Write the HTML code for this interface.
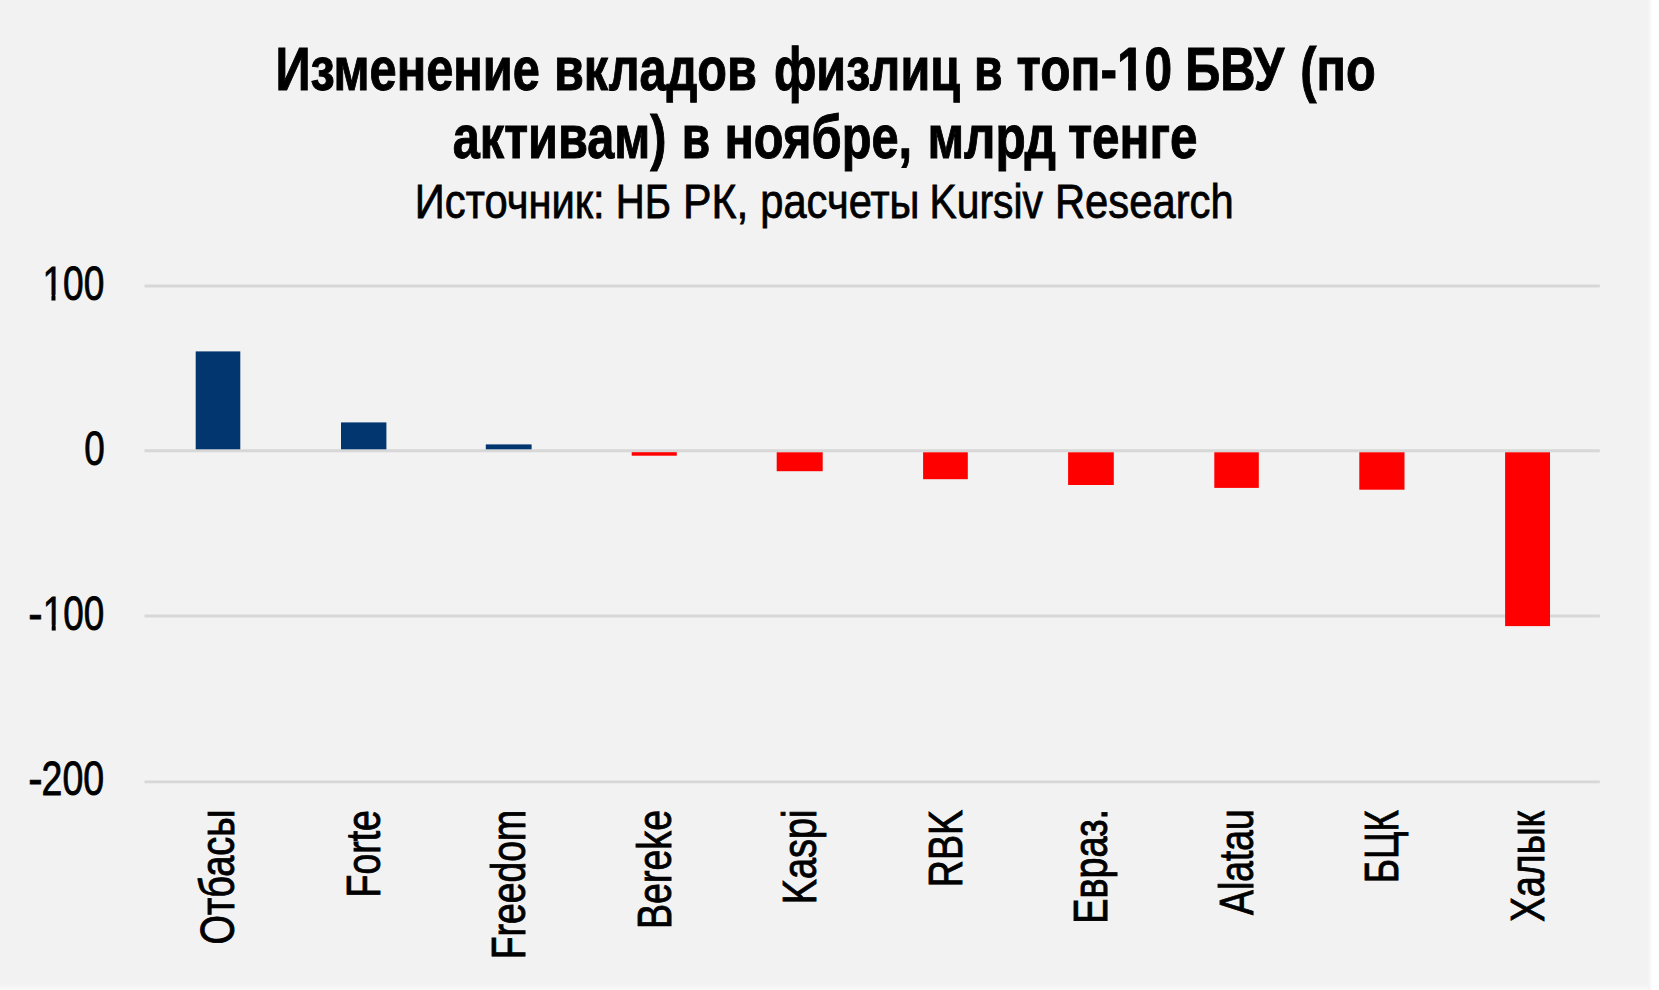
<!DOCTYPE html>
<html lang="ru">
<head>
<meta charset="utf-8">
<title>Изменение вкладов физлиц в топ-10 БВУ</title>
<style>
html,body{margin:0;padding:0;background:#ffffff;}
body{width:1659px;height:990px;overflow:hidden;}
svg{display:block;}
text{font-family:"Liberation Sans",Arial,Helvetica,sans-serif;fill:#000;stroke:#000;}
.b{font-weight:bold;}
</style>
</head>
<body>
<svg width="1659" height="990" viewBox="0 0 1659 990">
<defs>
<linearGradient id="gr" x1="0" y1="0" x2="1" y2="0"><stop offset="0" stop-color="#f2f2f2"/><stop offset="1" stop-color="#ffffff"/></linearGradient>
<linearGradient id="gb" x1="0" y1="0" x2="0" y2="1"><stop offset="0" stop-color="#f2f2f2"/><stop offset="1" stop-color="#f9f9f9"/></linearGradient>
</defs>
<rect x="0" y="0" width="1659" height="990" fill="#ffffff"/>
<rect x="0" y="0" width="1648.5" height="990" fill="#f2f2f2"/>
<rect x="0" y="984" width="1648.5" height="6" fill="url(#gb)"/>
<rect x="1648" y="0" width="4.6" height="990" fill="url(#gr)"/>

<g stroke="#d7d7d7" stroke-width="2.9">
<line x1="144.5" y1="286.0" x2="1599.8" y2="286.0"/>
<line x1="144.5" y1="450.8" x2="1599.8" y2="450.8"/>
<line x1="144.5" y1="615.95" x2="1599.8" y2="615.95"/>
<line x1="144.5" y1="781.85" x2="1599.8" y2="781.85"/>
</g>
<rect x="195.7" y="351.4" width="44.6" height="97.9" fill="#02366f"/>
<rect x="341.0" y="422.4" width="45.4" height="26.9" fill="#02366f"/>
<rect x="485.8" y="444.4" width="45.8" height="4.9" fill="#02366f"/>
<rect x="631.7" y="452.2" width="45.1" height="3.5" fill="#ff0000"/>
<rect x="776.7" y="452.3" width="46.0" height="18.9" fill="#ff0000"/>
<rect x="923.1" y="452.3" width="44.7" height="26.9" fill="#ff0000"/>
<rect x="1068.1" y="452.3" width="45.7" height="32.7" fill="#ff0000"/>
<rect x="1214.3" y="452.3" width="44.5" height="35.6" fill="#ff0000"/>
<rect x="1359.3" y="452.3" width="45.2" height="37.4" fill="#ff0000"/>
<rect x="1505.1" y="452.3" width="44.9" height="173.8" fill="#ff0000"/>
<text class="b" y="89.50" font-size="60.5" stroke-width="1.0"><tspan x="275.38" textLength="264.53" lengthAdjust="spacingAndGlyphs">Изменение</tspan> <tspan x="553.97" textLength="202.89" lengthAdjust="spacingAndGlyphs">вкладов</tspan> <tspan x="773.93" textLength="186.08" lengthAdjust="spacingAndGlyphs">физлиц</tspan> <tspan x="974.05" textLength="28.57" lengthAdjust="spacingAndGlyphs">в</tspan> <tspan x="1016.60" textLength="155.59" lengthAdjust="spacingAndGlyphs">топ-10</tspan> <tspan x="1185.19" textLength="98.84" lengthAdjust="spacingAndGlyphs">БВУ</tspan> <tspan x="1300.37" textLength="75.40" lengthAdjust="spacingAndGlyphs">(по</tspan></text>
<text class="b" y="157.70" font-size="60.5" stroke-width="1.0"><tspan x="452.75" textLength="213.80" lengthAdjust="spacingAndGlyphs">активам)</tspan> <tspan x="681.83" textLength="28.42" lengthAdjust="spacingAndGlyphs">в</tspan> <tspan x="724.40" textLength="187.80" lengthAdjust="spacingAndGlyphs">ноябре,</tspan> <tspan x="927.48" textLength="128.59" lengthAdjust="spacingAndGlyphs">млрд</tspan> <tspan x="1067.91" textLength="129.62" lengthAdjust="spacingAndGlyphs">тенге</tspan></text>
<text y="217.60" font-size="49" stroke-width="0.8"><tspan x="414.85" textLength="189.83" lengthAdjust="spacingAndGlyphs">Источник:</tspan> <tspan x="615.73" textLength="55.25" lengthAdjust="spacingAndGlyphs">НБ</tspan> <tspan x="683.11" textLength="65.29" lengthAdjust="spacingAndGlyphs">РК,</tspan> <tspan x="760.31" textLength="159.15" lengthAdjust="spacingAndGlyphs">расчеты</tspan> <tspan x="929.59" textLength="113.27" lengthAdjust="spacingAndGlyphs">Kursiv</tspan> <tspan x="1054.94" textLength="178.71" lengthAdjust="spacingAndGlyphs">Research</tspan></text>
<text y="300.10" font-size="47.8" stroke-width="0.8"><tspan x="42.46" textLength="61.92" lengthAdjust="spacingAndGlyphs">100</tspan></text>
<text y="465.20" font-size="47.8" stroke-width="0.8"><tspan x="84.14" textLength="20.52" lengthAdjust="spacingAndGlyphs">0</tspan></text>
<text y="629.70" font-size="47.8" stroke-width="0.8"><tspan x="28.30" textLength="14.35" lengthAdjust="spacingAndGlyphs">-</tspan><tspan x="42.78" textLength="61.52" lengthAdjust="spacingAndGlyphs">100</tspan></text>
<text y="794.90" font-size="47.8" stroke-width="0.8"><tspan x="28.30" textLength="14.35" lengthAdjust="spacingAndGlyphs">-</tspan><tspan x="41.60" textLength="62.65" lengthAdjust="spacingAndGlyphs">200</tspan></text>
<text transform="translate(234.30 944.54) rotate(-90)" font-size="49" stroke-width="0.9" textLength="135.07" lengthAdjust="spacingAndGlyphs">Отбасы</text>
<text transform="translate(379.80 897.48) rotate(-90)" font-size="49" stroke-width="0.9" textLength="87.39" lengthAdjust="spacingAndGlyphs">Forte</text>
<text transform="translate(525.30 959.24) rotate(-90)" font-size="49" stroke-width="0.9" textLength="149.41" lengthAdjust="spacingAndGlyphs">Freedom</text>
<text transform="translate(670.80 928.93) rotate(-90)" font-size="49" stroke-width="0.9" textLength="118.96" lengthAdjust="spacingAndGlyphs">Bereke</text>
<text transform="translate(816.30 904.26) rotate(-90)" font-size="49" stroke-width="0.9" textLength="94.79" lengthAdjust="spacingAndGlyphs">Kaspi</text>
<text transform="translate(961.80 887.22) rotate(-90)" font-size="49" stroke-width="0.9" textLength="77.35" lengthAdjust="spacingAndGlyphs">RBK</text>
<text transform="translate(1107.30 923.83) rotate(-90)" font-size="49" stroke-width="0.9" textLength="114.94" lengthAdjust="spacingAndGlyphs">Евраз.</text>
<text transform="translate(1252.80 914.94) rotate(-90)" font-size="49" stroke-width="0.9" textLength="105.76" lengthAdjust="spacingAndGlyphs">Alatau</text>
<text transform="translate(1398.30 883.27) rotate(-90)" font-size="49" stroke-width="0.9" textLength="73.13" lengthAdjust="spacingAndGlyphs">БЦК</text>
<text transform="translate(1543.80 921.89) rotate(-90)" font-size="49" stroke-width="0.9" textLength="110.83" lengthAdjust="spacingAndGlyphs">Халык</text>
<rect x="43.50" y="294.80" width="7.93" height="7.00" fill="#f2f2f2"/>
<rect x="55.49" y="294.80" width="8.01" height="7.00" fill="#f2f2f2"/>
<rect x="43.50" y="624.80" width="8.21" height="7.00" fill="#f2f2f2"/>
<rect x="55.70" y="624.80" width="7.80" height="7.00" fill="#f2f2f2"/>
<rect x="1117.50" y="81.80" width="10.62" height="10.00" fill="#f2f2f2"/>
<rect x="1135.86" y="81.80" width="9.64" height="10.00" fill="#f2f2f2"/>
</svg>
</body>
</html>
